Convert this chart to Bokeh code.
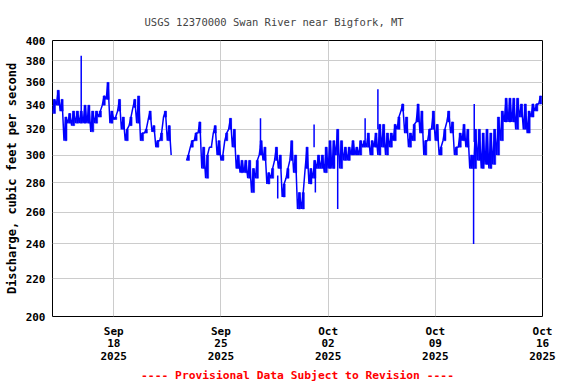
import numpy as np
import pandas as pd
from bokeh.plotting import figure
from bokeh.models import (FixedTicker, DatetimeTickFormatter, PrintfTickFormatter,
                          Title, Range1d, ColumnDataSource)
from bokeh.embed import file_html
from bokeh.resources import INLINE

# ---- data (6-hourly low/high band of the 15-min record) ----
start = "2025-09-14 00:00"
low = [333, 340, 335, 311, 325, 323, 325, 325, 325, 325, 318, 325, 330, 340, 345, 325,
       328, 335, 320, 311, 323, 338, 325, 311, 317, 328, 318, 306, 311, 330, 311, 300,
       None, None, None, 296, 306, 311, 317, 290, 283, 306, 317, 300, 296, 311, 320, 306,
       290, 287, 287, 283, 273, 283, 300, 296, 279, 283, 296, 290, 270, 283, 296, 287,
       262, 262, 290, 279, 283, 290, 290, 287, 290, 290, 300, 290, 296, 296, 300, 300,
       300, 306, 306, 300, 306, 300, 306, 300, 306, 311, 320, 335, 317, 306, 311, 326,
       317, 300, 311, 320, 311, 300, 311, 326, 317, 300, 306, 311, 306, 290, 290, 296,
       290, 293, 290, 293, 300, 311, 326, 326, 326, 320, 330, 320, 317, 330, 335, 341]
high = [345, 353, 345, 330, 333, 335, 335, 335, 340, 340, 335, 335, 335, 348, 360, 335,
        330, 345, 330, 320, 330, 345, 348, 317, 320, 335, 323, 311, 317, 335, 323, None,
        None, None, None, 300, 311, 317, 326, 306, 300, 306, 323, 311, 300, 317, 329, 320,
        300, 296, 296, 296, 290, 296, 311, 306, 287, 290, 306, 300, 279, 290, 311, 300,
        273, 273, 306, 290, 296, 300, 300, 306, 311, 311, 320, 311, 306, 306, 311, 306,
        311, 311, 317, 311, 317, 324, 324, 317, 317, 324, 330, 341, 330, 317, 324, 341,
        335, 311, 320, 335, 324, 306, 320, 335, 326, 306, 317, 324, 320, 300, 320, 320,
        317, 320, 317, 320, 330, 335, 346, 346, 346, 346, 341, 341, 335, 341, 341, 348]

# isolated spikes: time, band value, spike value
spike_time = ["2025-09-15 21:00", "2025-09-27 14:00", "2025-09-28 17:00", "2025-10-01 02:00",
              "2025-10-01 04:00", "2025-10-02 15:00", "2025-10-04 10:00", "2025-10-05 06:00",
              "2025-10-11 12:00", "2025-10-11 13:00"]
spike_from = [335, 306, 285, 306, 295, 300, 311, 320, 300, 310]
spike_to = [385, 329, 269, 324, 273, 262, 329, 354, 240, 341]

y_ticks = [200, 220, 240, 260, 280, 300, 320, 340, 360, 380, 400]
x_tick_dates = ["2025-09-18", "2025-09-25", "2025-10-02", "2025-10-09", "2025-10-16"]
x_start, x_end = "2025-09-14", "2025-10-16"

# ---- build the series (low at the step, high 3 h later) ----
steps = pd.date_range(start, periods=len(low), freq="6h")
times, vals = [], []
for t, lo, hi in zip(steps, low, high):
    times.append(t)
    vals.append(np.nan if lo is None else lo)
    times.append(t + pd.Timedelta(hours=3))
    vals.append(np.nan if hi is None else hi)
src = ColumnDataSource(dict(t=times, q=vals))
band = ColumnDataSource(dict(
    t=[s + pd.Timedelta(hours=3) for s in steps],
    lo=[np.nan if v is None else v for v in low],
    hi=[np.nan if v is None else v for v in high]))
spk = ColumnDataSource(dict(t=pd.to_datetime(spike_time), a=spike_from, b=spike_to))

mono = "DejaVu Sans Mono"
p = figure(width=576, height=384, x_axis_type="datetime", y_axis_type="log",
           x_range=Range1d(pd.Timestamp(x_start), pd.Timestamp(x_end)),
           y_range=Range1d(200, 400),
           output_backend="svg", toolbar_location=None,
           min_border_left=52, min_border_right=34, min_border_top=40, min_border_bottom=68)

blue = "#0000ff"
p.vbar(x="t", bottom="lo", top="hi", width=3.5 * 3600 * 1000, source=band,
       fill_color=blue, line_color=blue, line_width=0.5)
p.line("t", "q", source=src, line_color=blue, line_width=1.5)
p.segment(x0="t", y0="a", x1="t", y1="b", source=spk, line_color=blue, line_width=1.5)

p.title.text = "USGS 12370000 Swan River near Bigfork, MT"
p.title.align = "left"
p.title.offset = 92
p.title.text_font = mono
p.title.text_font_size = "10.5px"
p.title.text_font_style = "normal"
p.title.standoff = 26

# axes
xt = FixedTicker(ticks=[pd.Timestamp(d).value / 1e6 for d in x_tick_dates])
yt = FixedTicker(ticks=y_ticks)
p.xaxis.ticker = xt
p.yaxis.ticker = yt
p.xgrid.ticker = xt
p.ygrid.ticker = yt
fmt = "%b\n%d\n%Y"
p.xaxis.formatter = DatetimeTickFormatter(milliseconds=fmt, seconds=fmt, minsec=fmt, minutes=fmt,
                                          hourmin=fmt, hours=fmt, days=fmt, months=fmt, years=fmt)
p.yaxis.formatter = PrintfTickFormatter(format="%d")

for ax in (p.xaxis, p.yaxis):
    ax.major_label_text_font = mono
    ax.major_label_text_font_size = "11px"
    ax.major_label_text_font_style = "bold"
    ax.major_label_text_color = "black"
    ax.major_tick_out = 0
    ax.major_tick_in = 0
    ax.minor_tick_out = 0
    ax.minor_tick_in = 0
    ax.axis_line_color = None
p.xaxis.major_label_text_line_height = 0.98
p.xaxis.major_label_standoff = 8
p.yaxis.major_label_standoff = 7

p.yaxis.axis_label = "Discharge, cubic feet per second"
p.yaxis.axis_label_text_font = mono
p.yaxis.axis_label_text_font_size = "12px"
p.yaxis.axis_label_text_font_style = "bold"
p.yaxis.axis_label_text_color = "black"
p.yaxis.axis_label_standoff = 4

p.xgrid.grid_line_color = "#cccccc"
p.ygrid.grid_line_color = "#cccccc"
p.xgrid.grid_line_width = 1
p.ygrid.grid_line_width = 1
p.outline_line_color = "black"
p.outline_line_width = 1
p.outline_line_alpha = 1

p.add_layout(Title(text="---- Provisional Data Subject to Revision ----", align="center",
                   text_color="red", text_font=mono, text_font_size="11.3px",
                   text_font_style="bold", standoff=3, text_line_height=1.0), "below")

open("out.html", "w").write(file_html(p, INLINE))
